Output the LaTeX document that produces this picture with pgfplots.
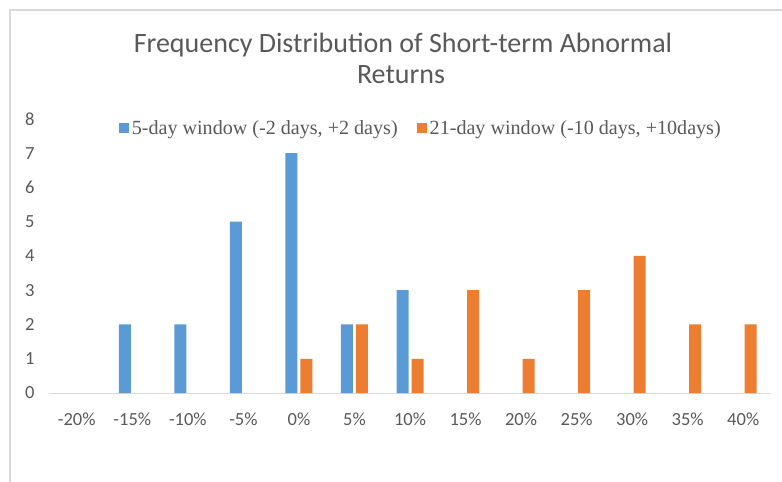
\documentclass[border=0pt]{standalone}
\usepackage{pgfplots}
\pgfplotsset{compat=1.18}
\usepackage{fontspec}
\setmainfont{Carlito}
\newfontfamily\serifleg{Liberation Serif}
\definecolor{cblue}{HTML}{5B9BD5}
\definecolor{corange}{HTML}{ED7D31}
\definecolor{txtgray}{HTML}{595959}
\definecolor{axgray}{HTML}{D9D9D9}
\definecolor{framegray}{HTML}{D9D9D9}
\begin{document}
\begin{tikzpicture}
\useasboundingbox (0pt,0pt) rectangle (782pt,482pt);
\draw[framegray, line width=1.5pt] (10pt,0pt) -- (10pt,472pt) -- (782pt,472pt);
\node[txtgray, font=\fontsize{28}{32}\selectfont] at (403pt,437pt) {Frequency Distribution of Short-term Abnormal};
\node[txtgray, font=\fontsize{28}{32}\selectfont] at (401pt,407pt) {Returns};
\begin{axis}[
  at={(49pt,89pt)}, anchor=south west,
  scale only axis, width=722pt, height=274pt,
  xmin=-0.5, xmax=12.5, ymin=0, ymax=8,
  ybar=3pt, bar width=12pt,
  axis x line*=bottom, axis y line*=left,
  x axis line style={-, axgray, line width=1pt},
  y axis line style={draw=none},
  tick style={draw=none},
  xtick={0,...,12},
  xticklabels={-20\%,-15\%,-10\%,-5\%,0\%,5\%,10\%,15\%,20\%,25\%,30\%,35\%,40\%},
  ytick={0,...,8},
  ticklabel style={font=\fontsize{18.5}{20}\selectfont, text=txtgray},
  /pgf/number format/assume math mode=true,
  yticklabel style={xshift=-11pt},
  xticklabel style={yshift=-12pt},
  legend columns=2,
  legend style={at={(rel axis cs:0.093,0.967)}, anchor=west, draw=none, fill=none,
    font=\serifleg\fontsize{20.1}{22}\selectfont, text=txtgray,
    /tikz/every even column/.append style={column sep=17pt},
    nodes={inner sep=2.5pt}},
  legend image code/.code={\path[#1,draw=none] (0pt,-5pt) rectangle (10pt,5pt);},
]
\addplot[fill=cblue, draw=none] coordinates {(1,2) (2,2) (3,5) (4,7) (5,2) (6,3)};
\addplot[fill=corange, draw=none] coordinates {(4,1) (5,2) (6,1) (7,3) (8,1) (9,3) (10,4) (11,2) (12,2)};
\legend{{5-day window (-2 days, +2 days)}, {21-day window (-10 days, +10days)}}
\end{axis}
\end{tikzpicture}
\end{document}
